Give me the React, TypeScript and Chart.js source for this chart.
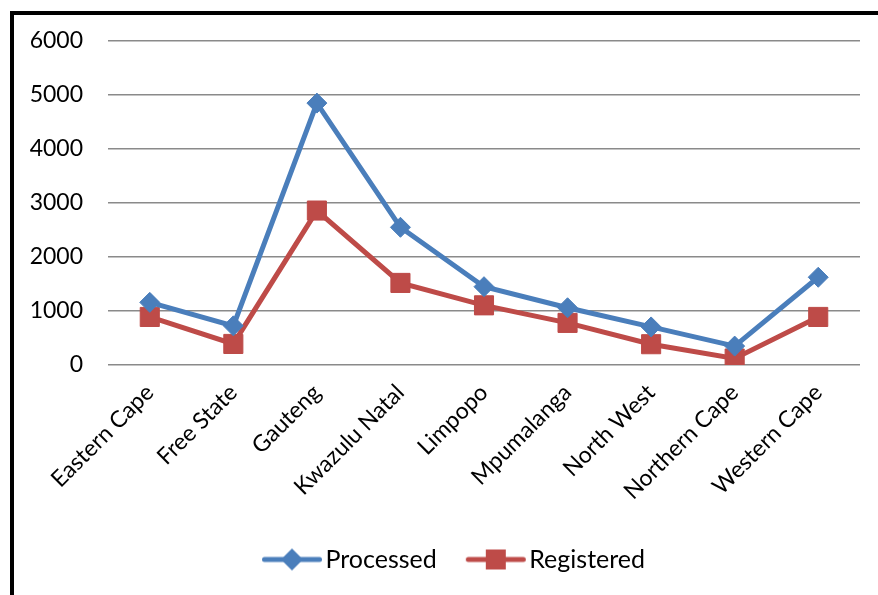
import React, { useEffect, useRef } from "react";
import { Chart, registerables } from "chart.js";

Chart.register(...registerables);

const categories = [
  "Eastern Cape",
  "Free State",
  "Gauteng",
  "Kwazulu Natal",
  "Limpopo",
  "Mpumalanga",
  "North West",
  "Northern Cape",
  "Western Cape",
];
const processed = [1160, 725, 4850, 2550, 1450, 1060, 705, 350, 1625];
const registered = [890, 390, 2860, 1520, 1105, 780, 385, 120, 890];
const yMin = 0;
const yMax = 6000;
const yStep = 1000;

const BLUE = "#4A7EBB";
const RED = "#BE4B48";
const FONT = "Lato";

function makeIcon(color: string, kind: "diamond" | "square") {
  const c = document.createElement("canvas");
  c.width = 90;
  c.height = 26;
  const ctx = c.getContext("2d")!;
  const a = 21.5;
  ctx.strokeStyle = color;
  ctx.lineWidth = 5;
  ctx.lineCap = "round";
  ctx.beginPath();
  ctx.moveTo(a, 13);
  ctx.lineTo(a + 55, 13);
  ctx.stroke();
  ctx.fillStyle = color;
  const cx = a + 27.5;
  if (kind === "diamond") {
    ctx.beginPath();
    ctx.moveTo(cx, 2);
    ctx.lineTo(cx + 11, 13);
    ctx.lineTo(cx, 24);
    ctx.lineTo(cx - 11, 13);
    ctx.closePath();
    ctx.fill();
  } else {
    ctx.fillRect(cx - 10, 3, 20, 20);
  }
  return c;
}

const legendShift = {
  id: "legendShift",
  afterLayout(chart: any) {
    if (chart.legend) {
      chart.legend.left += 17;
      chart.legend.right += 17;
    }
  },
};

export default function App() {
  const ref = useRef<HTMLCanvasElement | null>(null);
  useEffect(() => {
    document.body.style.overflow = "hidden";
    const icons = [makeIcon(BLUE, "diamond"), makeIcon(RED, "square")];
    const chart = new Chart(ref.current!, {
      type: "line",
      data: {
        labels: categories,
        datasets: [
          {
            label: "Processed",
            data: processed,
            borderColor: BLUE,
            backgroundColor: BLUE,
            borderWidth: 5,
            pointStyle: "rectRot",
            pointRadius: 10,
            pointBorderWidth: 1,
            pointBackgroundColor: BLUE,
            pointBorderColor: BLUE,
          },
          {
            label: "Registered",
            data: registered,
            borderColor: RED,
            backgroundColor: RED,
            borderWidth: 5,
            pointStyle: "rect",
            pointRadius: 13.5,
            pointBorderWidth: 1,
            pointBackgroundColor: RED,
            pointBorderColor: RED,
          },
        ],
      },
      options: {
        responsive: false,
        animation: false,
        layout: { padding: { top: 26, right: 18, left: 0, bottom: 13 } },
        plugins: {
          tooltip: { enabled: false },
          legend: {
            position: "bottom",
            labels: {
              usePointStyle: true,
              pointStyleWidth: 50,
              padding: 30,
              color: "#000",
              font: { family: FONT, size: 25 },
              generateLabels: (ch: any) =>
                ch.data.datasets.map((ds: any, i: number) => ({
                  text: ds.label,
                  pointStyle: icons[i],
                  fillStyle: ds.borderColor,
                  strokeStyle: ds.borderColor,
                  lineWidth: 0,
                  hidden: false,
                  datasetIndex: i,
                  fontColor: "#000",
                })),
            },
          },
        },
        scales: {
          x: {
            offset: true,
            grid: { display: false },
            border: { display: false },
            ticks: {
              minRotation: 45,
              maxRotation: 45,
              padding: 6,
              color: "#000",
              font: { family: FONT, size: 23 },
            },
            afterFit: (s: any) => {
              s.height = 152;
            },
          },
          y: {
            min: yMin,
            max: yMax,
            grid: { color: "#8a8a8a", lineWidth: 1.5, drawTicks: false },
            border: { display: false },
            ticks: {
              stepSize: yStep,
              padding: 25,
              color: "#000",
              font: { family: FONT, size: 23 },
              callback: (v: any) => String(v),
            },
            afterFit: (s: any) => {
              s.width = 94;
              s.paddingTop = 0;
              s.paddingBottom = 0;
            },
          },
        },
      },
      plugins: [legendShift],
    });
    return () => chart.destroy();
  }, []);
  return (
    <div
      style={{
        position: "absolute",
        left: 10,
        top: 11,
        width: 864,
        height: 580,
        borderLeft: "4px solid #000",
        borderTop: "4px solid #000",
        background: "#fff",
      }}
    >
      <canvas ref={ref} width={864} height={580} style={{ width: 864, height: 580, display: "block" }} />
    </div>
  );
}
